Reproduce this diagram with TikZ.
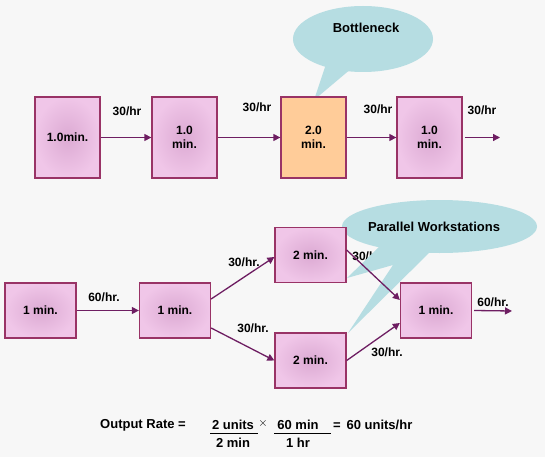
\documentclass[tikz,border=0pt]{standalone}
\usepackage{fontspec}
\setmainfont{Liberation Sans}
\usetikzlibrary{arrows.meta,calc}
\definecolor{bg}{HTML}{F7F7F7}
\definecolor{boxline}{HTML}{993366}
\definecolor{pinkout}{HTML}{F0C6E8}
\definecolor{pinkin}{HTML}{DCAAD3}
\definecolor{orangefill}{HTML}{FFCC99}
\definecolor{calloutcol}{HTML}{B6DDE2}
\definecolor{arrowcol}{HTML}{6E1E62}
\tikzset{
  wbox/.style={draw=boxline, line width=1.3pt, inner color=pinkin, outer color=pinkout,
    align=center, font=\fontsize{12}{14}\selectfont\bfseries, inner sep=0pt},
  topbox/.style={wbox, minimum width=65pt, minimum height=81pt},
  lowbox/.style={wbox, minimum width=71pt, minimum height=55pt},
  flow/.style={draw=arrowcol, line width=1.3pt, -{Triangle[length=7pt,width=7pt]}},
  rate/.style={font=\fontsize{12}{14}\selectfont\bfseries, inner sep=0pt},
  bigtxt/.style={font=\fontsize{13}{15}\selectfont\bfseries, inner sep=0pt},
  callout/.style={fill=calloutcol, draw=none}
}
\begin{document}
\begin{tikzpicture}[x=1pt,y=-1pt]
\fill[bg] (0,0) rectangle (545,457);
\useasboundingbox (0,0) rectangle (545,457);

% ---- top row ----
\fill[callout] (363,39) ellipse [x radius=70, y radius=33];
\fill[callout] (326,64) -- (314,100) -- (352,68) -- cycle;
\node[bigtxt] (bn) at (366,28) {Bottleneck};

\node[topbox] (t1) at (67.5,137.5) {1.0min.};
\node[topbox] (t2) at (184.5,137.5) {1.0\\min.};
\node[topbox, inner color=orangefill, outer color=orangefill, fill=orangefill] (t3) at (313.5,137.5) {2.0\\min.};
\node[topbox] (t4) at (429.5,137.5) {1.0\\min.};
\coordinate (tend) at (500,137.5);

\draw[flow] (t1.east) -- (t2.west);
\draw[flow] (t2.east) -- (t3.west);
\draw[flow] (t3.east) -- (t4.west);
\draw[flow] ($(t4.east)+(2,0)$) -- (tend);

\node[rate] (r1) at (127,111) {30/hr};
\node[rate] (r2) at (257,107) {30/hr};
\node[rate] (r3) at (378,109) {30/hr};
\node[rate] (r4) at (482,110) {30/hr};

% ---- bottom row ----
\node[rate] (r7) at (368,256) {30/hr.};
\fill[callout] (439.5,226.5) ellipse [x radius=97.5, y radius=26.5];
\fill[callout] (380,246) -- (347,278) -- (393,265) -- (348,333) -- (432,250) -- cycle;
\node[bigtxt] (pw) at (434,227) {Parallel Workstations};

\node[lowbox] (a) at (40.5,310.5) {1 min.};
\node[lowbox] (b) at (175,310.5) {1 min.};
\node[lowbox] (c) at (310.5,255) {2 min.};
\node[lowbox] (d) at (310.5,360.5) {2 min.};
\node[lowbox] (e) at (436,310.5) {1 min.};
\coordinate (bend) at (512,311);

\draw[flow] (a.east) -- (b.west);
\draw[flow] ($(b.east)+(0,-11.5)$) -- ($(c.west)+(0,2)$);
\draw[flow] ($(b.east)+(0,17.5)$) -- (d.west);
\draw[flow] ($(c.east)+(0,-5)$) -- ($(e.west)+(0,-10.5)$);
\draw[flow] (d.east) -- ($(e.west)+(0,12.5)$);
\draw[flow] ($(e.east)+(2,0)$) -- (bend);

\node[rate] (r5) at (104,297) {60/hr.};
\node[rate] (r6) at (244,262) {30/hr.};
\node[rate] (r8) at (253,328) {30/hr.};
\node[rate] (r9) at (387,352) {30/hr.};
\node[rate] (r10) at (493,302) {60/hr.};

% ---- formula ----
\node[bigtxt, anchor=west] (f1) at (100,425) {Output Rate =};
\node[bigtxt] (f2) at (233,425) {2 units};
\node[bigtxt] (f3) at (233,443) {2 min};
\node[bigtxt] (fx) at (263,423) {$\times$};
\node[bigtxt] (f4) at (298,425) {60 min};
\node[bigtxt] (f5) at (298,443) {1 hr};
\node[bigtxt, anchor=west] (f6) at (333,425) {=\, 60 units/hr};
\draw[line width=0.9pt] (210,433.5) -- (258,433.5);
\draw[line width=0.9pt] (274,433.5) -- (331,433.5);
\end{tikzpicture}
\end{document}
